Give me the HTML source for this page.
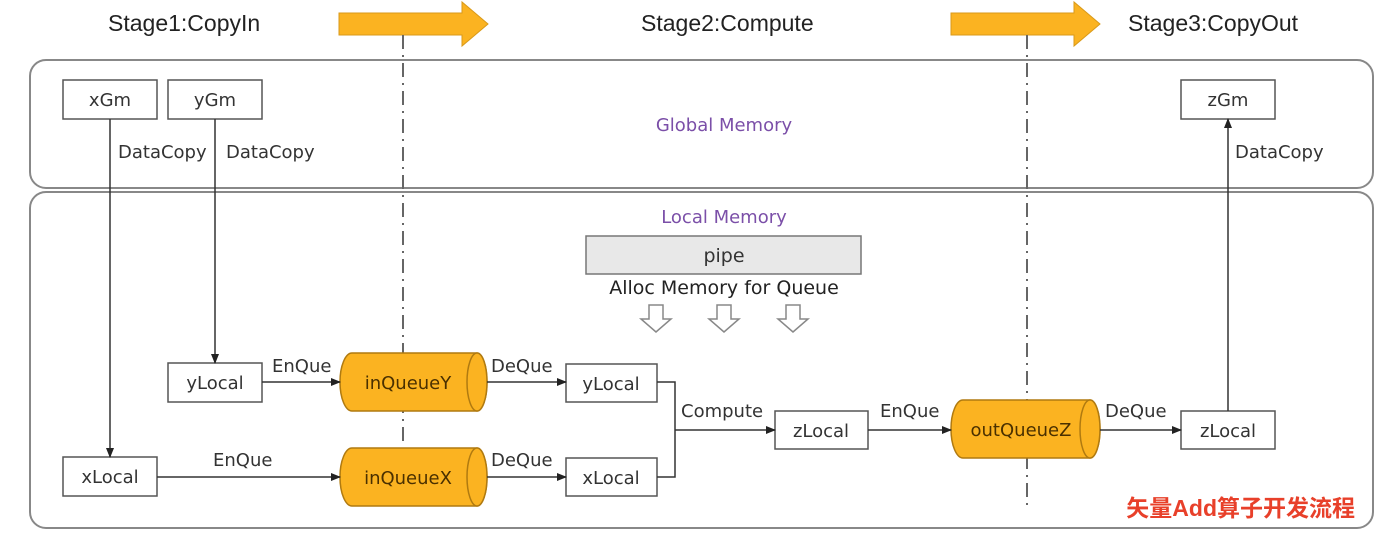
<!DOCTYPE html>
<html><head><meta charset="utf-8"><style>
html,body{margin:0;padding:0;background:#fff;width:1378px;height:535px;overflow:hidden}
svg text{font-family:"DejaVu Sans","Liberation Sans",sans-serif;fill:#333}
</style></head><body>
<svg width="1378" height="535" viewBox="0 0 1378 535" xmlns="http://www.w3.org/2000/svg">
<defs>
<marker id="a" markerWidth="10" markerHeight="8" refX="9" refY="4" orient="auto" markerUnits="userSpaceOnUse"><path d="M0,0 L10,4 L0,8 Z" fill="#222"/></marker>
</defs>
<g font-size="23">
<text x="108" y="31" style="font-family:'Liberation Sans',sans-serif;fill:#222">Stage1:CopyIn</text>
<text x="641" y="31" style="font-family:'Liberation Sans',sans-serif;fill:#222">Stage2:Compute</text>
<text x="1128" y="31" style="font-family:'Liberation Sans',sans-serif;fill:#222">Stage3:CopyOut</text>
</g>
<path d="M339,13 L462,13 L462,2 L488,24 L462,46 L462,35 L339,35 Z" fill="#fbb321" stroke="#d99a1a"/>
<path d="M951,13 L1074,13 L1074,2 L1100,24 L1074,46 L1074,35 L951,35 Z" fill="#fbb321" stroke="#d99a1a"/>
<rect x="30" y="60" width="1343" height="128" rx="16" fill="none" stroke="#888" stroke-width="2"/>
<rect x="30" y="192" width="1343" height="336" rx="16" fill="none" stroke="#888" stroke-width="2"/>
<text x="724" y="131" font-size="18" text-anchor="middle" style="fill:#7b4fa8">Global Memory</text>
<text x="724" y="223" font-size="18" text-anchor="middle" style="fill:#7b4fa8">Local Memory</text>
<line x1="403" y1="35" x2="403" y2="445" stroke="#666" stroke-width="2" stroke-dasharray="14,6,2,6"/>
<line x1="1027" y1="35" x2="1027" y2="505" stroke="#666" stroke-width="2" stroke-dasharray="14,6,2,6"/>
<rect x="586" y="236" width="275" height="38" fill="#e8e8e8" stroke="#777" stroke-width="1.5"/>
<text x="724" y="262" font-size="19" text-anchor="middle">pipe</text>
<text x="724" y="294" font-size="19" text-anchor="middle" style="fill:#222">Alloc Memory for Queue</text>
<g fill="#fff" stroke="#888" stroke-width="1.5">
<path d="M649,305 h14 v14 h8 l-15,13 l-15,-13 h8 Z"/>
<path d="M717,305 h14 v14 h8 l-15,13 l-15,-13 h8 Z"/>
<path d="M786,305 h14 v14 h8 l-15,13 l-15,-13 h8 Z"/>
</g>
<g fill="#fff" stroke="#555" stroke-width="1.5">
<rect x="63" y="80" width="94" height="39"/>
<rect x="168" y="80" width="94" height="39"/>
<rect x="1181" y="80" width="94" height="39"/>
<rect x="168" y="363" width="94" height="39"/>
<rect x="63" y="457" width="94" height="39"/>
<rect x="566" y="364" width="91" height="38"/>
<rect x="566" y="458" width="91" height="38"/>
<rect x="775" y="411" width="93" height="38"/>
<rect x="1181" y="411" width="94" height="38"/>
</g>
<g font-size="18" text-anchor="middle">
<text x="110" y="106">xGm</text><text x="215" y="106">yGm</text><text x="1228" y="106">zGm</text>
<text x="215" y="389">yLocal</text><text x="110" y="483">xLocal</text>
<text x="611" y="390">yLocal</text><text x="611" y="484">xLocal</text>
<text x="821" y="437">zLocal</text><text x="1228" y="437">zLocal</text>
</g>
<g stroke="#b07a10" stroke-width="1.5" fill="#fbb321">
<path d="M352,353 L477,353 A10,29 0 0 1 477,411 L352,411 A12,29 0 0 1 352,353 Z"/>
<ellipse cx="477" cy="382" rx="10" ry="29"/>
<path d="M352,448 L477,448 A10,29 0 0 1 477,506 L352,506 A12,29 0 0 1 352,448 Z"/>
<ellipse cx="477" cy="477" rx="10" ry="29"/>
<path d="M963,400 L1090,400 A10,29 0 0 1 1090,458 L963,458 A12,29 0 0 1 963,400 Z"/>
<ellipse cx="1090" cy="429" rx="10" ry="29"/>
</g>
<g font-size="18" text-anchor="middle">
<text x="408" y="389" style="fill:#4a3000">inQueueY</text>
<text x="408" y="484" style="fill:#4a3000">inQueueX</text>
<text x="1021" y="436" style="fill:#4a3000">outQueueZ</text>
</g>
<g stroke="#333" stroke-width="1.5" fill="none">
<line x1="110" y1="119" x2="110" y2="457" marker-end="url(#a)"/>
<line x1="215" y1="119" x2="215" y2="363" marker-end="url(#a)"/>
<line x1="262" y1="382" x2="340" y2="382" marker-end="url(#a)"/>
<line x1="157" y1="477" x2="340" y2="477" marker-end="url(#a)"/>
<line x1="487" y1="382" x2="566" y2="382" marker-end="url(#a)"/>
<line x1="487" y1="477" x2="566" y2="477" marker-end="url(#a)"/>
<path d="M657,382 H675 V477 H657"/>
<line x1="675" y1="430" x2="775" y2="430" marker-end="url(#a)"/>
<line x1="868" y1="430" x2="951" y2="430" marker-end="url(#a)"/>
<line x1="1100" y1="430" x2="1181" y2="430" marker-end="url(#a)"/>
<line x1="1228" y1="411" x2="1228" y2="119" marker-end="url(#a)"/>
</g>
<g font-size="18">
<text x="118" y="158">DataCopy</text><text x="226" y="158">DataCopy</text>
<text x="1235" y="158">DataCopy</text>
<text x="272" y="372">EnQue</text><text x="213" y="466">EnQue</text>
<text x="491" y="372">DeQue</text><text x="491" y="466">DeQue</text>
<text x="681" y="417">Compute</text>
<text x="880" y="417">EnQue</text>
<text x="1105" y="417">DeQue</text>
</g>
<text x="1355" y="516" font-size="23" font-weight="bold" text-anchor="end" style="font-family:'Liberation Sans','Noto Sans CJK SC',sans-serif;fill:#e8402a">矢量Add算子开发流程</text>
</svg>
</body></html>
